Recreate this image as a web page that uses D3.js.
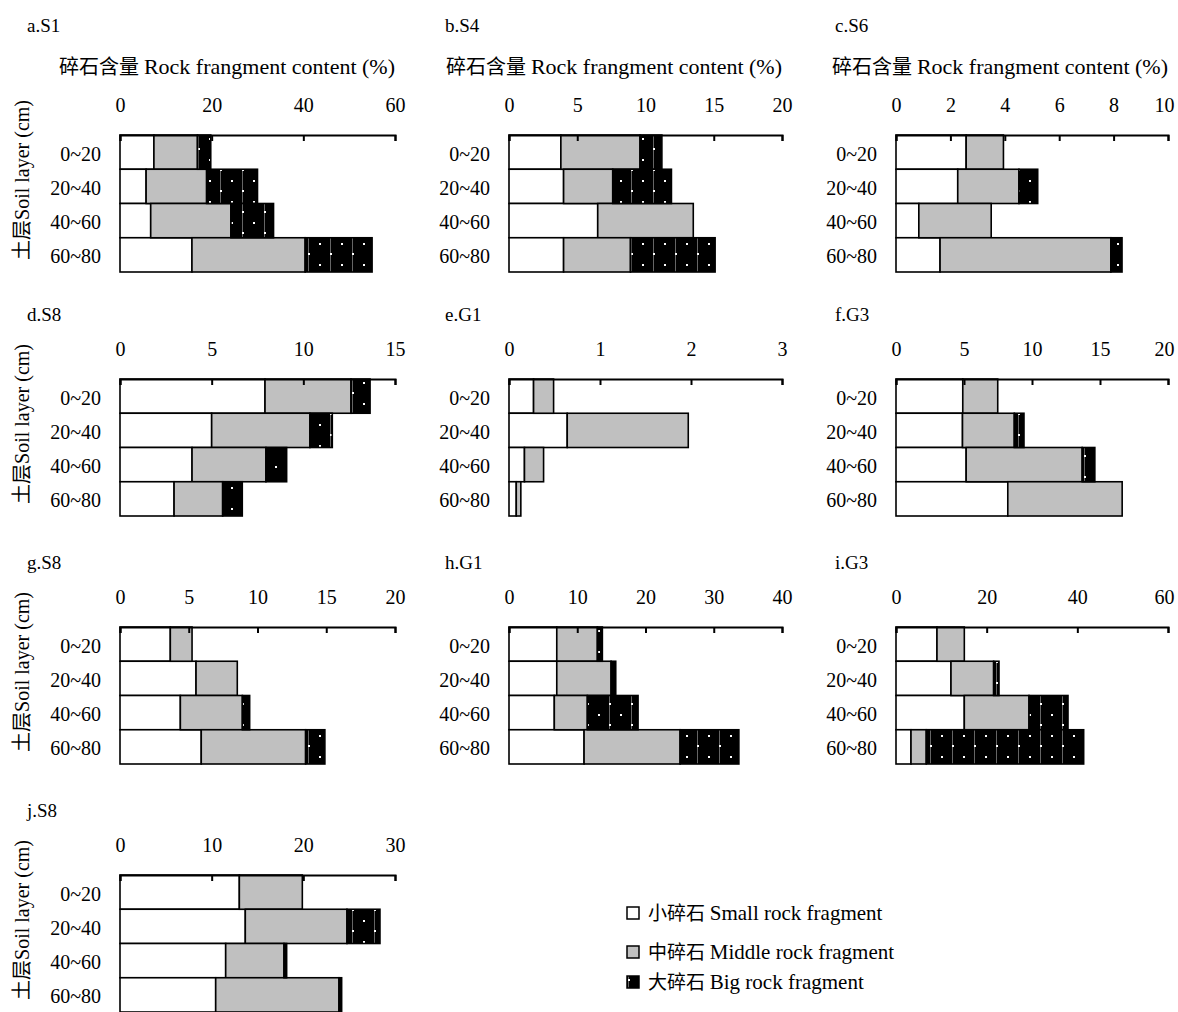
<!DOCTYPE html>
<html>
<head>
  <meta charset="utf-8">
  <title>Rock fragment content by soil layer</title>
  <style>
    body {
      margin: 0;
      background: #fff;
    }

    svg {
      display: block;
      font-family: "Liberation Serif", "Noto Sans CJK SC", serif;
    }

    .panel-label {
      font-size: 19px;
    }

    .axis-title,
    .y-title,
    .layer-label,
    .legend-text {
      font-size: 20px;
    }
  </style>
</head>
<body>
  <div id="chart"></div>

  <script src="https://d3js.org/d3.v7.min.js"></script>
  <script>
    // Soil layers and fragment classes
    const layers = ["0~20", "20~40", "40~60", "60~80"];
    const fragmentKeys = [0, 1, 2]; // small, middle, big
    const legendZh = ["小碎石", "中碎石", "大碎石"];
    const legendEn = ["Small rock fragment", "Middle rock fragment", "Big rock fragment"];

    // Panel names, axis maximum and tick step
    const panelNames = ["a.S1", "b.S4", "c.S6", "d.S8", "e.G1", "f.G3", "g.S8", "h.G1", "i.G3", "j.S8"];
    const axisMax = [60, 20, 10, 15, 3, 20, 20, 40, 60, 30];
    const axisStep = [20, 5, 2, 5, 1, 5, 5, 10, 20, 10];

    // Content (%) per layer: [small, middle, big]
    const aS1 = [[7.4, 9.5, 2.9], [5.7, 13.2, 11.1], [6.7, 17.5, 9.3], [15.7, 24.7, 14.6]];
    const bS4 = [[3.8, 5.8, 1.6], [4.0, 3.6, 4.3], [6.5, 7.0, 0], [4.0, 4.9, 6.2]];
    const cS6 = [[2.58, 1.37, 0], [2.27, 2.25, 0.69], [0.84, 2.66, 0], [1.62, 6.28, 0.41]];
    const dS8 = [[7.91, 4.69, 1.04], [5.0, 5.36, 1.22], [3.93, 4.03, 1.13], [2.95, 2.65, 1.07]];
    const eG1 = [[0.27, 0.22, 0], [0.64, 1.33, 0], [0.17, 0.21, 0], [0.08, 0.05, 0]];
    const fG3 = [[4.91, 2.57, 0], [4.89, 3.81, 0.71], [5.16, 8.53, 0.93], [8.22, 8.41, 0]];
    const gS8 = [[3.66, 1.58, 0], [5.53, 3.0, 0], [4.39, 4.51, 0.53], [5.91, 7.59, 1.4]];
    const hG1 = [[7.0, 5.95, 0.73], [7.0, 7.96, 0.68], [6.64, 4.84, 7.43], [11.0, 14.07, 8.61]];
    const iG3 = [[9.04, 6.03, 0], [12.13, 9.41, 1.18], [15.07, 14.27, 8.6], [3.31, 3.37, 34.72]];
    const jS8 = [[13.02, 6.87, 0], [13.67, 11.09, 3.6], [11.53, 6.36, 0.29], [10.44, 13.45, 0.29]];
    const panelValues = [aS1, bS4, cS6, dS8, eG1, fG3, gS8, hG1, iG3, jS8];

    // Layout
    const width = 1178, height = 1012;
    const colX = [120, 509, 896];
    const colW = [275, 273, 272];
    const labelX = [27, 445, 835];
    const rowY = [135, 379, 627, 875];
    const plotH = 137;

    const svg = d3.select("#chart")
      .append("svg")
      .attr("width", width)
      .attr("height", height)
      .attr("viewBox", [0, 0, width, height]);

    // Big fragment fill: black with white dots
    const pattern = svg.append("defs")
      .append("pattern")
      .attr("id", "big-rock")
      .attr("patternUnits", "userSpaceOnUse")
      .attr("width", 22)
      .attr("height", 21);
    pattern.append("rect").attr("width", 22).attr("height", 21).attr("fill", "#000");
    pattern.append("line")
      .attr("x1", 12.5).attr("x2", 12.5).attr("y1", 0).attr("y2", 21)
      .attr("stroke", "#aaa").attr("stroke-width", 0.6);
    pattern.append("rect").attr("x", 1).attr("y", 3).attr("width", 2).attr("height", 2).attr("fill", "#fff");
    pattern.append("rect").attr("x", 12).attr("y", 13).attr("width", 2).attr("height", 2).attr("fill", "#fff");

    const fills = ["#fff", "#c0c0c0", "url(#big-rock)"];

    panelValues.forEach((values, p) => {
      const row = Math.floor(p / 3), col = p % 3;
      const x0 = colX[col], y0 = rowY[row], w = colW[col];

      const x = d3.scaleLinear().domain([0, axisMax[p]]).range([0, w]);
      const y = d3.scaleBand().domain(layers).range([0, plotH]).padding(0);

      const g = svg.append("g").attr("transform", `translate(${x0},${y0})`);

      // Panel label
      svg.append("text")
        .attr("class", "panel-label")
        .attr("x", labelX[col])
        .attr("y", y0 - (row === 0 ? 110 : 65))
        .attr("dy", "0.35em")
        .text(panelNames[p]);

      // Stacked bars
      const series = d3.stack().keys(fragmentKeys)(values);
      g.selectAll("g.series")
        .data(series)
        .join("g")
        .attr("class", "series")
        .attr("fill", (d, i) => fills[i])
        .selectAll("rect")
        .data(d => d.map((s, j) => ({ x0: s[0], x1: s[1], layer: layers[j] })).filter(s => s.x1 > s.x0))
        .join("rect")
        .attr("x", d => x(d.x0))
        .attr("y", d => y(d.layer))
        .attr("width", d => x(d.x1) - x(d.x0))
        .attr("height", y.bandwidth())
        .attr("stroke", "#000")
        .attr("stroke-width", 1.6);

      // Top axis with ticks pointing into the plot
      const axis = g.append("g")
        .call(d3.axisTop(x)
          .tickValues(d3.range(0, axisMax[p] + axisStep[p] / 2, axisStep[p]))
          .tickSizeInner(-6)
          .tickSizeOuter(-6)
          .tickPadding(23)
          .tickFormat(d3.format("d")));
      axis.attr("font-family", null).attr("font-size", 20);
      axis.select(".domain").attr("stroke-width", 2);
      axis.selectAll(".tick line").attr("stroke-width", 2);
      axis.selectAll(".tick text").attr("fill", "#000");
      // keep the last label of the right column inside the page
      if (col === 2) axis.select(".tick:last-of-type text").attr("dx", -4);

      // Soil layer labels
      g.selectAll("text.layer-label")
        .data(layers)
        .join("text")
        .attr("class", "layer-label")
        .attr("x", -19)
        .attr("y", d => y(d) + y.bandwidth() / 2)
        .attr("dy", "0.42em")
        .attr("text-anchor", "end")
        .text(d => d);

      // Axis title on the first row
      if (row === 0) {
        const title = svg.append("text")
          .attr("class", "axis-title")
          .attr("x", x0 + w)
          .attr("y", 74)
          .attr("text-anchor", "end");
        title.append("tspan").text("碎石含量 ");
        title.append("tspan").attr("font-size", 22).text("Rock frangment content (%)");
      }

      // Y title on the first column
      if (col === 0) {
        svg.append("text")
          .attr("class", "y-title")
          .attr("transform", `translate(22,${y0 + 45}) rotate(-90)`)
          .attr("text-anchor", "middle")
          .attr("dy", "0.35em")
          .text("土层Soil layer (cm)");
      }
    });

    // Legend
    const legendY = [913, 952, 982];
    const legend = svg.append("g");
    legendZh.forEach((zh, i) => {
      legend.append("rect")
        .attr("x", 627)
        .attr("y", legendY[i] - 6)
        .attr("width", 12)
        .attr("height", 12)
        .attr("fill", fills[i])
        .attr("stroke", "#000")
        .attr("stroke-width", 1.5);
      const text = legend.append("text")
        .attr("class", "legend-text")
        .attr("x", 648)
        .attr("y", legendY[i])
        .attr("dy", "0.35em");
      text.append("tspan").attr("font-size", 19).text(`${zh} `);
      text.append("tspan").attr("font-size", 21).text(legendEn[i]);
    });
  </script>
</body>
</html>
